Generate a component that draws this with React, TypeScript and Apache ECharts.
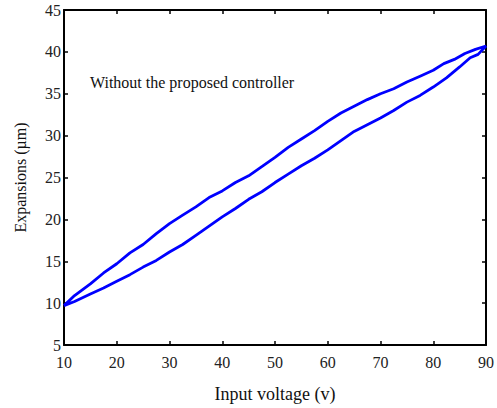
import React, { useEffect, useRef } from "react";
import * as echarts from "echarts";

const xTicks = [10, 20, 30, 40, 50, 60, 70, 80, 90];
const yTicks = [5, 10, 15, 20, 25, 30, 35, 40, 45];

// Ascending branch (lower curve)
const voltageUp = [10, 12, 15, 17.5, 20, 22.5, 25, 27.5, 30, 32.5, 35, 37.5, 40, 42.5, 45, 47.5, 50, 52.5, 55, 57.5, 60, 62.5, 65, 67.5, 70, 72.5, 75, 77.5, 80, 82.5, 85, 87, 88.5, 90];
const expansionUp = [9.7, 10.2, 11.1, 11.8, 12.6, 13.4, 14.3, 15.1, 16.1, 17.0, 18.1, 19.2, 20.3, 21.3, 22.4, 23.3, 24.4, 25.4, 26.4, 27.3, 28.3, 29.4, 30.5, 31.3, 32.1, 33.0, 34.0, 34.8, 35.8, 36.9, 38.2, 39.3, 39.7, 40.7];

// Descending branch (upper curve)
const voltageDown = [90, 88, 86, 84, 82, 80, 77.5, 75, 72.5, 70, 67.5, 65, 62.5, 60, 57.5, 55, 52.5, 50, 47.5, 45, 42.5, 40, 37.5, 35, 32.5, 30, 27.5, 25, 22.5, 20, 17.5, 15, 12, 10];
const expansionDown = [40.7, 40.3, 39.8, 39.1, 38.6, 37.8, 37.1, 36.4, 35.6, 35.0, 34.3, 33.5, 32.7, 31.7, 30.6, 29.6, 28.6, 27.4, 26.3, 25.2, 24.4, 23.4, 22.6, 21.5, 20.5, 19.5, 18.3, 17.0, 16.0, 14.7, 13.6, 12.3, 10.9, 9.7];

const annotation = "Without the proposed controller";
const xTitle = "Input voltage (v)";
const yTitle = "Expansions (\u00b5m)";

export default function App() {
  const ref = useRef<HTMLDivElement>(null);
  useEffect(() => {
    if (!ref.current) return;
    const chart = echarts.init(ref.current, undefined, { renderer: "svg" });
    const loop: number[][] = [];
    voltageUp.forEach((v, i) => loop.push([v, expansionUp[i]]));
    voltageDown.forEach((v, i) => loop.push([v, expansionDown[i]]));
    const font = "Liberation Serif";
    const axisCommon = {
      type: "value" as const,
      axisLine: { show: true, lineStyle: { color: "#000", width: 2 } },
      axisTick: { show: true, inside: true, length: 4, lineStyle: { color: "#000", width: 1.5 } },
      splitLine: { show: false },
    };
    chart.setOption({
      animation: false,
      backgroundColor: "#fff",
      grid: { left: 64, right: 9, top: 10, bottom: 62, show: false },
      xAxis: [
        {
          ...axisCommon,
          min: 10,
          max: 90,
          interval: 10,
          position: "bottom",
          name: xTitle,
          nameLocation: "middle",
          nameGap: 40,
          nameTextStyle: { fontFamily: font, fontSize: 18, color: "#111" },
          axisLabel: {
            fontFamily: font,
            fontSize: 16,
            color: "#222",
            margin: 9,
            formatter: (v: number) => (xTicks.includes(v) ? String(v) : ""),
          },
        },
        {
          ...axisCommon,
          min: 10,
          max: 90,
          interval: 10,
          position: "top",
          axisLabel: { show: false },
        },
      ],
      yAxis: [
        {
          ...axisCommon,
          min: 5,
          max: 45,
          interval: 5,
          position: "left",
          name: yTitle,
          nameLocation: "middle",
          nameGap: 36,
          nameTextStyle: { fontFamily: font, fontSize: 16, color: "#111" },
          axisLabel: {
            fontFamily: font,
            fontSize: 16,
            color: "#222",
            margin: 3,
            formatter: (v: number) => (yTicks.includes(v) ? String(v) : ""),
          },
        },
        {
          ...axisCommon,
          min: 5,
          max: 45,
          interval: 5,
          position: "right",
          axisLabel: { show: false },
        },
      ],
      graphic: [
        {
          type: "text",
          left: 90,
          top: 74,
          style: { text: annotation, fontFamily: font, fontSize: 16, fill: "#111" },
        },
      ],
      series: [
        {
          type: "line",
          data: loop,
          showSymbol: false,
          smooth: false,
          lineStyle: { color: "#0000ff", width: 2.8 },
          xAxisIndex: 0,
          yAxisIndex: 0,
        },
      ],
    });
    return () => chart.dispose();
  }, []);
  return (
    <div
      ref={ref}
      style={{ position: "absolute", left: 0, top: 0, width: 497, height: 408 }}
    />
  );
}
